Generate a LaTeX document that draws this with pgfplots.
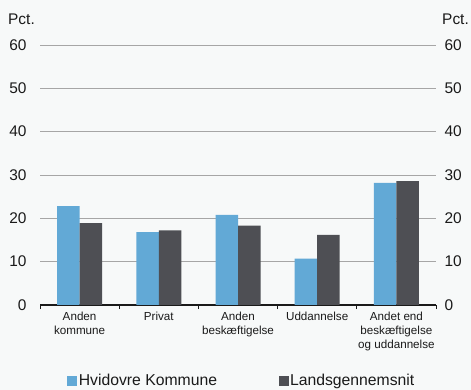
\documentclass[border=0pt]{standalone}
\usepackage{pgfplots}
\pgfplotsset{compat=1.18}
\usepackage{fontspec}
\setmainfont{Liberation Sans}
\definecolor{bgc}{HTML}{F7F9F9}
\definecolor{hblue}{HTML}{62A9D6}
\definecolor{dgray}{HTML}{4E4F54}
\definecolor{gridc}{HTML}{A6A6A6}
\definecolor{txt}{HTML}{1A1A1A}
\begin{document}
\begin{tikzpicture}
\fill[bgc] (0,0) rectangle (471bp,390bp);
\path[use as bounding box] (0,0) rectangle (471bp,390bp);
\begin{axis}[at={(40bp,85bp)}, anchor=south west, scale only axis,
  width=396bp, height=260bp,
  xmin=-0.5, xmax=4.5, ymin=0, ymax=60, ytick={0,10,...,60},
  ymajorgrids, grid style={gridc, line width=0.7bp},
  axis lines*=left,
  y axis line style={draw=none},
  x axis line style={txt, line width=1.1bp, -},
  major tick length=0pt,
  xtick={0,...,4},
  xticklabels={Anden\\kommune, Privat, Anden\\beskæftigelse, Uddannelse, Andet end\\beskæftigelse\\og uddannelse},
  xticklabel style={align=center, font=\fontsize{11.7}{14}\selectfont, text=txt, yshift=-4bp},
  extra x ticks={-0.5,0.5,...,4.5},
  extra x tick labels={},
  extra x tick style={xtick align=outside, major tick length=4bp, tick style={txt, line width=0.9bp}, grid=none},
  yticklabel style={font=\fontsize{15.5}{18}\selectfont, text=txt, xshift=-10bp},
  /pgf/number format/assume math mode=true,
  ybar=0pt, bar width=22.5bp,
  legend image code/.code={\fill[#1] (0bp,-5bp) rectangle (10bp,5bp);},
  legend style={draw=none, fill=none, legend columns=2, at={(0.509,-0.292)}, anchor=center,
    font=\fontsize{15.8}{18}\selectfont, text=txt,
    /tikz/every even column/.append style={column sep=60bp},
    nodes={inner sep=1.5bp}},
]
\addplot[draw=none, fill=hblue] coordinates {(0,22.8) (1,16.8) (2,20.8) (3,10.7) (4,28.2)};
\addlegendentry{Hvidovre Kommune}
\addplot[draw=none, fill=dgray] coordinates {(0,18.9) (1,17.2) (2,18.3) (3,16.2) (4,28.6)};
\addlegendentry{Landsgennemsnit}
\end{axis}
\begin{axis}[at={(40bp,85bp)}, anchor=south west, scale only axis,
  width=396bp, height=260bp,
  xmin=-0.5, xmax=4.5, ymin=0, ymax=60, ytick={0,10,...,60},
  axis y line*=right, axis x line=none,
  y axis line style={draw=none},
  major tick length=0pt,
  yticklabel style={font=\fontsize{15.5}{18}\selectfont, text=txt, xshift=5bp},
  /pgf/number format/assume math mode=true,
]
\end{axis}
\node[anchor=base west, font=\fontsize{15.5}{18}\selectfont, text=txt, inner sep=0pt] at (8bp,365bp) {Pct.};
\node[anchor=base east, font=\fontsize{15.5}{18}\selectfont, text=txt, inner sep=0pt] at (469bp,365bp) {Pct.};
\end{tikzpicture}
\end{document}
